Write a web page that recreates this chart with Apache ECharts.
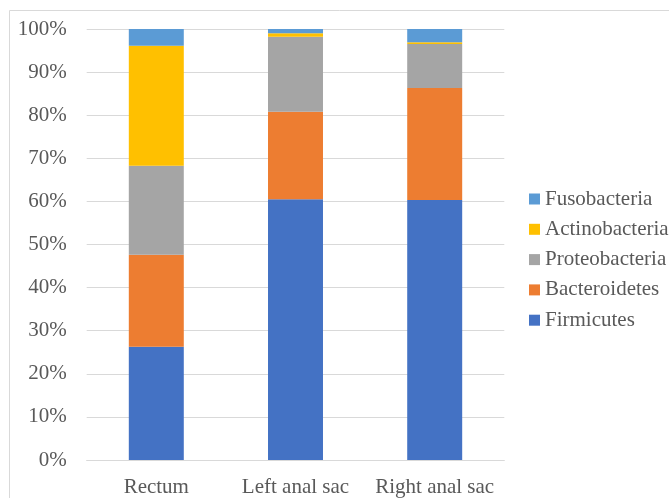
<html>
<head>
<meta charset="utf-8">
<title>Phylum composition</title>
<script src="https://cdn.jsdelivr.net/npm/echarts@6/dist/echarts.min.js"></script>
</head>
<body style="margin:0">
	<div id="main" style="width: 669px; height: 498px;"></div>
	<script type="text/javascript">
		// categories and series values (percent)
		var sites = ['Rectum', 'Left anal sac', 'Right anal sac'];
		var firmicutes = [26.3, 60.5, 60.3];
		var bacteroidetes = [21.3, 20.3, 26.0];
		var proteobacteria = [20.7, 17.4, 10.2];
		var actinobacteria = [27.8, 0.8, 0.4];
		var fusobacteria = [3.9, 1.0, 3.1];
		var legendOrder = ['Fusobacteria', 'Actinobacteria', 'Proteobacteria', 'Bacteroidetes', 'Firmicutes'];

		var font = 'Liberation Serif';
		var textColor = '#595959';
		var myChart = echarts.init(document.getElementById('main'));

		function bar(name, data, color) {
			return {
				name: name,
				type: 'bar',
				stack: 'total',
				barWidth: '39.5%',
				data: data,
				itemStyle: { color: color },
				emphasis: { disabled: true }
			};
		}

		myChart.setOption({
			animation: false,
			// outer chart border
			graphic: [{
				type: 'rect',
				shape: { x: 9.5, y: 10.5, width: 700, height: 520 },
				style: { fill: null, stroke: '#d9d9d9', lineWidth: 1 },
				z: -1
			}],
			legend: {
				data: legendOrder,
				orient: 'vertical',
				left: 524,
				top: 183.5,
				itemWidth: 11,
				itemHeight: 11,
				itemGap: 9.3,
				icon: 'rect',
				textStyle: { fontFamily: font, fontSize: 21, lineHeight: 21, color: textColor }
			},
			grid: {
				left: 86.7,
				right: 164.7,
				top: 29,
				bottom: 38
			},
			xAxis: {
				type: 'category',
				data: sites,
				axisLine: { lineStyle: { color: '#d9d9d9' } },
				axisTick: { show: false },
				axisLabel: { interval: 0, fontFamily: font, fontSize: 21, color: textColor, margin: 17 }
			},
			yAxis: {
				type: 'value',
				min: 0,
				max: 100,
				interval: 10,
				axisLine: { show: false },
				axisTick: { show: false },
				splitLine: { lineStyle: { color: '#d9d9d9', width: 1 } },
				axisLabel: { fontFamily: font, fontSize: 21, color: textColor, margin: 20, formatter: '{value}%' }
			},
			series: [
				bar('Firmicutes', firmicutes, '#4472c4'),
				bar('Bacteroidetes', bacteroidetes, '#ed7d31'),
				bar('Proteobacteria', proteobacteria, '#a5a5a5'),
				bar('Actinobacteria', actinobacteria, '#ffc000'),
				bar('Fusobacteria', fusobacteria, '#5b9bd5')
			]
		});
	</script>
</body>
</html>
